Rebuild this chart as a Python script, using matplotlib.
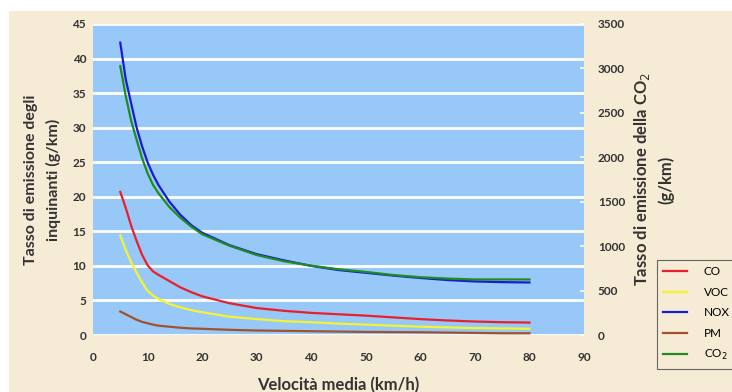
import matplotlib
matplotlib.use("Agg")
import matplotlib.pyplot as plt
from matplotlib.patches import Rectangle

plt.rcParams['font.family'] = ['Lato', 'DejaVu Sans']

speed = [5, 6, 7, 8, 9, 10, 11, 12, 14, 16, 18, 20, 25, 30, 35, 40, 45, 50, 55, 60, 65, 70, 75, 80]
co = [20.7, 18.4, 15.8, 13.6, 11.6, 10.1, 9.2, 8.7, 7.8, 6.9, 6.2, 5.6, 4.6, 3.9, 3.5, 3.2, 3.0, 2.8, 2.55, 2.3, 2.1, 1.95, 1.85, 1.8]
voc = [14.4, 12.3, 10.5, 9.0, 7.6, 6.4, 5.7, 5.2, 4.5, 4.0, 3.6, 3.3, 2.65, 2.3, 2.0, 1.85, 1.65, 1.5, 1.35, 1.2, 1.1, 1.0, 0.95, 0.9]
nox = [42.3, 37.0, 33.5, 30.0, 27.3, 25.0, 23.2, 21.7, 19.3, 17.4, 15.9, 14.8, 13.0, 11.7, 10.8, 10.0, 9.4, 9.0, 8.6, 8.25, 7.95, 7.75, 7.65, 7.6]
pm = [3.4, 3.0, 2.6, 2.2, 1.9, 1.7, 1.5, 1.35, 1.2, 1.05, 0.95, 0.9, 0.75, 0.65, 0.6, 0.55, 0.5, 0.45, 0.42, 0.4, 0.35, 0.3, 0.25, 0.25]
co2 = [3025, 2690, 2410, 2195, 1990, 1820, 1690, 1595, 1440, 1320, 1220, 1135, 1005, 900, 830, 780, 740, 710, 675, 650, 635, 625, 625, 625]

x_ticks = [0, 10, 20, 30, 40, 50, 60, 70, 80, 90]
left_ticks = [0, 5, 10, 15, 20, 25, 30, 35, 40, 45]
right_ticks = [0, 500, 1000, 1500, 2000, 2500, 3000, 3500]

W, H = 732, 392
fig = plt.figure(figsize=(W / 100, H / 100), dpi=100, facecolor='white')
fig.patches.append(Rectangle((9 / W, 0), 1 - 9 / W, 1 - 11 / H, transform=fig.transFigure,
                             facecolor='#f6ebd5', edgecolor='none', zorder=-10))

ax = fig.add_axes([93 / W, 1 - 335 / H, (584 - 93) / W, (335 - 24) / H])
ax.set_facecolor('#97c8f7')
for s in ax.spines.values():
    s.set_visible(False)

ax.set_xlim(0, 90)
ax.set_ylim(0, 45)
ax.set_xticks(x_ticks)
ax.set_yticks(left_ticks)
ax.grid(axis='y', color='white', linewidth=2)
ax.set_axisbelow(True)
ax.tick_params(axis='both', length=0, labelsize=8.5, colors='#333333', pad=5)
ax.tick_params(axis='x', pad=12)
for lab in ax.get_xticklabels() + ax.get_yticklabels():
    lab.set_fontweight('bold')

lw = 1.6
l_co, = ax.plot(speed, co, color='#e8202a', lw=lw, label='CO')
l_voc, = ax.plot(speed, voc, color='#f4f430', lw=lw, label='VOC')
l_nox, = ax.plot(speed, nox, color='#1a1ad6', lw=lw, label='NOX')
l_pm, = ax.plot(speed, pm, color='#a0522d', lw=lw, label='PM')

ax2 = ax.twinx()
for s in ax2.spines.values():
    s.set_visible(False)
ax2.set_ylim(0, 3500)
ax2.set_yticks(right_ticks)
ax2.tick_params(axis='y', direction='in', length=3, width=1.2, color='white',
                labelcolor='#333333', labelsize=8.5, pad=10)
for lab in ax2.get_yticklabels():
    lab.set_fontweight('bold')
l_co2, = ax2.plot(speed, co2, color='#1e8c1e', lw=lw, label='CO$_2$')

ax.set_ylabel('Tasso di emissione degli\ninquinanti (g/km)', fontsize=11.5, fontweight='bold',
              color='#333333', labelpad=8, linespacing=1.7)
ax2.set_ylabel('Tasso di emissione della CO$_2$\n(g/km)', fontsize=12, fontweight='bold',
               color='#333333', labelpad=5, linespacing=1.45)
ax.set_xlabel('Velocità media (km/h)', fontsize=12, fontweight='bold', color='#333333', labelpad=10)

leg = fig.legend(handles=[l_co, l_voc, l_nox, l_pm, l_co2], loc='upper left',
                 bbox_to_anchor=(657 / W, 1 - 260 / H), fontsize=8.5, frameon=True,
                 fancybox=False, edgecolor='#444444', facecolor='#f6ebd5',
                 handlelength=2.0, borderpad=0.55, labelspacing=0.8, handletextpad=1.4,
                 borderaxespad=0)
leg.get_frame().set_linewidth(0.8)

fig.savefig('out.png', dpi=100, facecolor=fig.get_facecolor())
